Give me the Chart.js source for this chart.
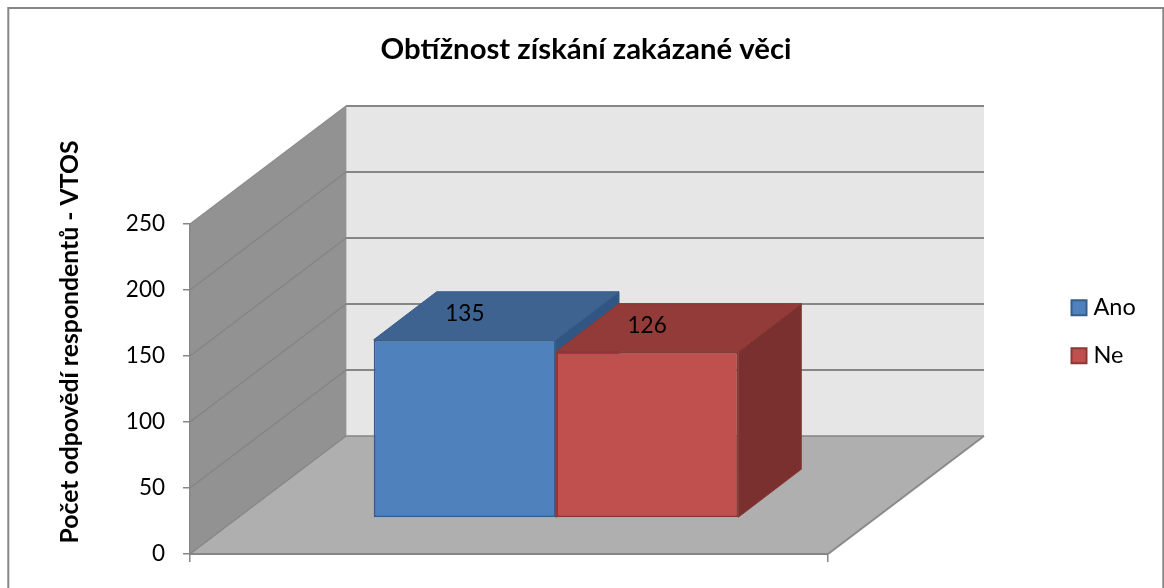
<!DOCTYPE html>
<html><head><meta charset="utf-8">
<style>html,body{margin:0;padding:0;background:#fff;overflow:hidden}#wrap{width:1164px;height:588px;position:relative}</style>
<script src="https://cdn.jsdelivr.net/npm/chart.js@4/dist/chart.umd.js"></script>
</head><body><div id="wrap"><canvas id="c" width="1164" height="588"></canvas></div>
<script>
const categories = [''];
const seriesNames = ['Ano', 'Ne'];
const ano = [135];
const ne = [126];
const yTicks = [0, 50, 100, 150, 200, 250];
const chartTitle = 'Obtížnost získání zakázané věci';
const yTitle = 'Počet odpovědí respondentů - VTOS';

const FONT = 'Lato';
const WALL = {dx: 156, dy: 118};
const BAR_SHIFT = {dx: 47, dy: 36};
const BAR_DEPTH = {dx: 63, dy: 48};
const FACES = [
  {top: '#3E6391', side: '#325683', edge: '#385D8A'},
  {top: '#933B38', side: '#7A302E', edge: '#8C3836'}
];

function poly(ctx, pts, fill, stroke, lw) {
  ctx.beginPath();
  pts.forEach((p, i) => i ? ctx.lineTo(p[0], p[1]) : ctx.moveTo(p[0], p[1]));
  ctx.closePath();
  if (fill) { ctx.fillStyle = fill; ctx.fill(); }
  if (stroke) { ctx.strokeStyle = stroke; ctx.lineWidth = lw || 1; ctx.stroke(); }
}
function seg(ctx, a, b, color, lw) {
  ctx.beginPath(); ctx.moveTo(a[0], a[1]); ctx.lineTo(b[0], b[1]);
  ctx.strokeStyle = color; ctx.lineWidth = lw; ctx.stroke();
}

const scene3d = {
  id: 'scene3d',
  beforeLayout(chart) {
    const lg = chart.legend;
    if (lg && !lg._patched) {
      lg._patched = true;
      const fit = lg.fit.bind(lg);
      lg.fit = function () { fit(); this.width = 1164 - 828; };
      const draw = lg.draw.bind(lg);
      lg.draw = function () {
        const ctx = this.ctx, ft = ctx.fillText;
        ctx.fillText = function (t, x, y) { return ft.call(ctx, t, x - 4.75, y); };
        draw();
        delete ctx.fillText;
      };
    }
  },
  afterLayout(chart) {
    const lg = chart.legend, pad = lg.options.labels.padding;
    lg.left = 1072 - pad - 0.5; lg.right = lg.left + 100;
    lg.top = 296 - pad; lg.bottom = lg.top + 250;
    const y = chart.scales.y;
    if (!y._patched) {
      y._patched = true;
      const dt = y.drawTitle.bind(y);
      y.drawTitle = function () {
        const ctx = this.ctx; ctx.save(); ctx.translate(0, -47); dt(); ctx.restore();
      };
    }
  },
  beforeDraw(chart) {
    const {ctx, chartArea: a, scales: {y}} = chart;
    const {dx, dy} = WALL;
    ctx.save();
    ctx.strokeStyle = '#868686'; ctx.lineWidth = 2;
    ctx.strokeRect(8.3, 8, 1155, 620);
    poly(ctx, [[a.left + dx, a.top - dy], [a.right + dx, a.top - dy], [a.right + dx, a.bottom - dy], [a.left + dx, a.bottom - dy]], '#E6E6E6');
    poly(ctx, [[a.left, a.top], [a.left + dx, a.top - dy], [a.left + dx, a.bottom - dy], [a.left, a.bottom]], '#929292');
    poly(ctx, [[a.left, a.bottom], [a.left + dx, a.bottom - dy], [a.right + dx, a.bottom - dy], [a.right, a.bottom]], '#AFAFAF');
    seg(ctx, [a.left + dx + 0.5, a.top - dy], [a.left + dx + 0.5, a.bottom - dy], '#C8C8C8', 1);
    yTicks.forEach(v => {
      const py = y.getPixelForValue(v);
      seg(ctx, [a.left, py], [a.left + dx, py - dy], v === 250 ? '#8c8c8c' : '#848484', 1.2);
      seg(ctx, [a.left + dx, py - dy], [a.right + dx, py - dy], '#868686', v === 0 ? 1.5 : 2);
    });
    seg(ctx, [a.right, a.bottom], [a.right + dx, a.bottom - dy], '#8a8a8a', 2);
    ctx.restore();
  },
  beforeDatasetsDraw(chart) {
    const {ctx} = chart, d = BAR_DEPTH;
    ctx.save();
    ctx.translate(BAR_SHIFT.dx, -BAR_SHIFT.dy);
    chart.data.datasets.forEach((ds, i) => {
      const f = FACES[i];
      chart.getDatasetMeta(i).data.forEach(el => {
        const x0 = el.x - el.width / 2, x1 = el.x + el.width / 2, yt = el.y, yb = el.base;
        poly(ctx, [[x1, yt], [x1 + d.dx, yt - d.dy], [x1 + d.dx, yb - d.dy], [x1, yb]], f.side, f.edge, 1);
        poly(ctx, [[x0, yt], [x1, yt], [x1 + d.dx, yt - d.dy], [x0 + d.dx, yt - d.dy]], f.top, f.edge, 1);
      });
    });
    ctx.restore();
  },
  beforeDatasetDraw(chart) {
    chart.ctx.save();
    chart.ctx.translate(BAR_SHIFT.dx, -BAR_SHIFT.dy);
  },
  afterDatasetDraw(chart) { chart.ctx.restore(); },
  afterDatasetsDraw(chart) {
    const {ctx} = chart;
    ctx.save();
    ctx.fillStyle = '#000';
    ctx.font = '22.5px ' + FONT;
    ctx.textAlign = 'center';
    ctx.textBaseline = 'middle';
    chart.data.datasets.forEach((ds, i) => {
      chart.getDatasetMeta(i).data.forEach((el, j) => {
        ctx.fillText(String(ds.data[j]), el.x + BAR_SHIFT.dx, el.y - BAR_SHIFT.dy - 26);
      });
    });
    ctx.restore();
  }
};

new Chart(document.getElementById('c'), {
  type: 'bar',
  plugins: [scene3d],
  data: {
    labels: categories,
    datasets: [
      {label: seriesNames[0], data: ano, backgroundColor: '#4F81BD', borderColor: '#385D8A', borderWidth: 2, borderSkipped: false, clip: false,
       barPercentage: 1, categoryPercentage: 2 / 3.5},
      {label: seriesNames[1], data: ne, backgroundColor: '#C0504D', borderColor: '#8C3836', borderWidth: 2, borderSkipped: false, clip: false,
       barPercentage: 1, categoryPercentage: 2 / 3.5}
    ]
  },
  options: {
    responsive: false,
    animation: false,
    layout: {padding: {left: 8, top: 0, right: 0, bottom: 0}},
    plugins: {
      title: {display: true, text: chartTitle, color: '#000', font: {family: FONT, size: 29.3, weight: 'bold'},
              padding: {top: 32.4, bottom: 156.4}},
      legend: {position: 'right', align: 'start',
               labels: {boxWidth: 15, boxHeight: 15, padding: 24.5, color: '#000', font: {family: FONT, size: 23.5}}},
      tooltip: {enabled: false}
    },
    scales: {
      x: {
        grid: {offset: true, drawOnChartArea: false, color: '#868686', lineWidth: 1.5, tickLength: 8},
        border: {display: true, color: '#868686', width: 2},
        ticks: {display: true, font: {family: FONT, size: 1}, padding: 0},
        afterFit(s) { s.height = 34; }
      },
      y: {
        min: 0, max: 250,
        afterBuildTicks(s) { s.ticks = yTicks.map(v => ({value: v})); },
        grid: {drawOnChartArea: false, color: '#868686', lineWidth: 1.5, tickLength: 7},
        border: {display: true, color: '#868686', width: 1.5},
        ticks: {color: '#000', padding: 18, font: {family: FONT, size: 22.5}},
        title: {display: true, text: yTitle, color: '#000', font: {family: FONT, size: 24.75, weight: 'bold'}, padding: {top: 47, bottom: 0}},
        afterFit(s) { s.width = 182; }
      }
    }
  }
});
</script></body></html>
